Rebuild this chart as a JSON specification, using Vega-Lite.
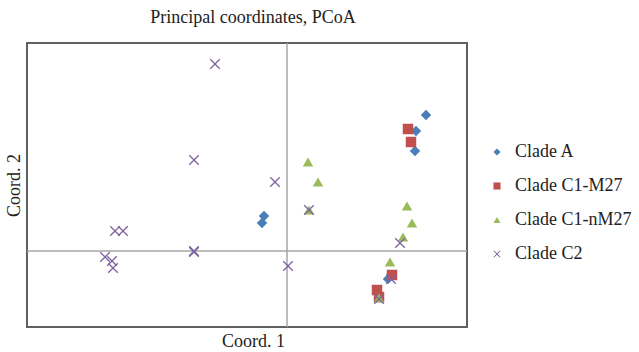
{
  "$schema": "https://vega.github.io/schema/vega-lite/v6.json",
  "width": 440,
  "height": 284,
  "autosize": {"type": "none"},
  "padding": {"left": 27, "top": 43, "right": 172, "bottom": 25},
  "background": "white",
  "title": {"text": "Principal coordinates, PCoA", "font": "Liberation Serif", "fontSize": 18, "fontWeight": "normal", "color": "#222", "anchor": "middle", "offset": 15, "dx": 6},
  "config": {
    "view": {"stroke": "#606060", "strokeWidth": 2},
    "axis": {"labels": false, "ticks": false, "grid": false, "domain": false, "titleFont": "Liberation Serif", "titleFontSize": 18, "titleFontWeight": "normal", "titleColor": "#222"},
    "legend": {"labelFont": "Liberation Serif", "labelFontSize": 18, "labelColor": "#222", "padding": 0}
  },
  "datasets": {
    "pts": [
      {"clade": "Clade A", "x": 0.139, "y": 0.136},
      {"clade": "Clade A", "x": 0.129, "y": 0.120},
      {"clade": "Clade A", "x": 0.128, "y": 0.100},
      {"clade": "Clade A", "x": -0.023, "y": 0.035},
      {"clade": "Clade A", "x": -0.025, "y": 0.028},
      {"clade": "Clade A", "x": 0.101, "y": -0.028},
      {"clade": "Clade C1-M27", "x": 0.121, "y": 0.122},
      {"clade": "Clade C1-M27", "x": 0.124, "y": 0.109},
      {"clade": "Clade C1-M27", "x": 0.105, "y": -0.024},
      {"clade": "Clade C1-M27", "x": 0.090, "y": -0.039},
      {"clade": "Clade C1-M27", "x": 0.092, "y": -0.046},
      {"clade": "Clade C1-nM27", "x": 0.021, "y": 0.089},
      {"clade": "Clade C1-nM27", "x": 0.031, "y": 0.069},
      {"clade": "Clade C1-nM27", "x": 0.022, "y": 0.041},
      {"clade": "Clade C1-nM27", "x": 0.120, "y": 0.045},
      {"clade": "Clade C1-nM27", "x": 0.125, "y": 0.028},
      {"clade": "Clade C1-nM27", "x": 0.116, "y": 0.014},
      {"clade": "Clade C1-nM27", "x": 0.103, "y": -0.011},
      {"clade": "Clade C1-nM27", "x": 0.092, "y": -0.047},
      {"clade": "Clade C2", "x": -0.072, "y": 0.187},
      {"clade": "Clade C2", "x": -0.093, "y": 0.091},
      {"clade": "Clade C2", "x": -0.012, "y": 0.069},
      {"clade": "Clade C2", "x": 0.022, "y": 0.041},
      {"clade": "Clade C2", "x": -0.172, "y": 0.020},
      {"clade": "Clade C2", "x": -0.164, "y": 0.020},
      {"clade": "Clade C2", "x": -0.182, "y": -0.006},
      {"clade": "Clade C2", "x": -0.175, "y": -0.010},
      {"clade": "Clade C2", "x": -0.174, "y": -0.017},
      {"clade": "Clade C2", "x": -0.093, "y": -0.001},
      {"clade": "Clade C2", "x": -0.093, "y": 0.000},
      {"clade": "Clade C2", "x": 0.001, "y": -0.015},
      {"clade": "Clade C2", "x": 0.113, "y": 0.008},
      {"clade": "Clade C2", "x": 0.104, "y": -0.028},
      {"clade": "Clade C2", "x": 0.092, "y": -0.048}
    ],
    "zero": [{"v": 0}]
  },
  "layer": [
    {
      "data": {"name": "zero"},
      "mark": {"type": "rule", "color": "#a6a6a6", "strokeWidth": 1.5},
      "encoding": {"x": {"field": "v", "type": "quantitative", "scale": {"domain": [-0.26, 0.18], "nice": false, "zero": false}}}
    },
    {
      "data": {"name": "zero"},
      "mark": {"type": "rule", "color": "#a6a6a6", "strokeWidth": 1.5},
      "encoding": {"y": {"field": "v", "type": "quantitative", "scale": {"domain": [-0.076, 0.208], "nice": false, "zero": false}}}
    },
    {
      "data": {"name": "pts"},
      "mark": {"type": "point", "filled": true, "opacity": 1, "size": 110},
      "encoding": {
        "x": {"field": "x", "type": "quantitative", "title": "Coord. 1", "axis": {"titlePadding": 5, "titleX": 226, "titleAlign": "center"}, "scale": {"domain": [-0.26, 0.18], "nice": false, "zero": false}},
        "y": {"field": "y", "type": "quantitative", "title": "Coord. 2", "axis": {"titlePadding": 4}, "scale": {"domain": [-0.076, 0.208], "nice": false, "zero": false}},
        "color": {"field": "clade", "type": "nominal", "scale": {"domain": ["Clade A", "Clade C1-M27", "Clade C1-nM27", "Clade C2"], "range": ["#4a7ebb", "#c0504d", "#9bbb59", "#8064a2"]},
          "legend": {"title": null, "orient": "none", "legendX": 461, "legendY": 100, "symbolSize": 50, "labelOffset": 9, "rowPadding": 16}},
        "shape": {"field": "clade", "type": "nominal", "scale": {"domain": ["Clade A", "Clade C1-M27", "Clade C1-nM27", "Clade C2"], "range": ["diamond", "square", "triangle-up", "M-0.82,-1L0,-0.18L0.82,-1L1,-0.82L0.18,0L1,0.82L0.82,1L0,0.18L-0.82,1L-1,0.82L-0.18,0L-1,-0.82Z"]},
          "legend": {"title": null, "orient": "none", "legendX": 461, "legendY": 100, "symbolSize": 50, "labelOffset": 9, "rowPadding": 16}}
      }
    }
  ]
}
